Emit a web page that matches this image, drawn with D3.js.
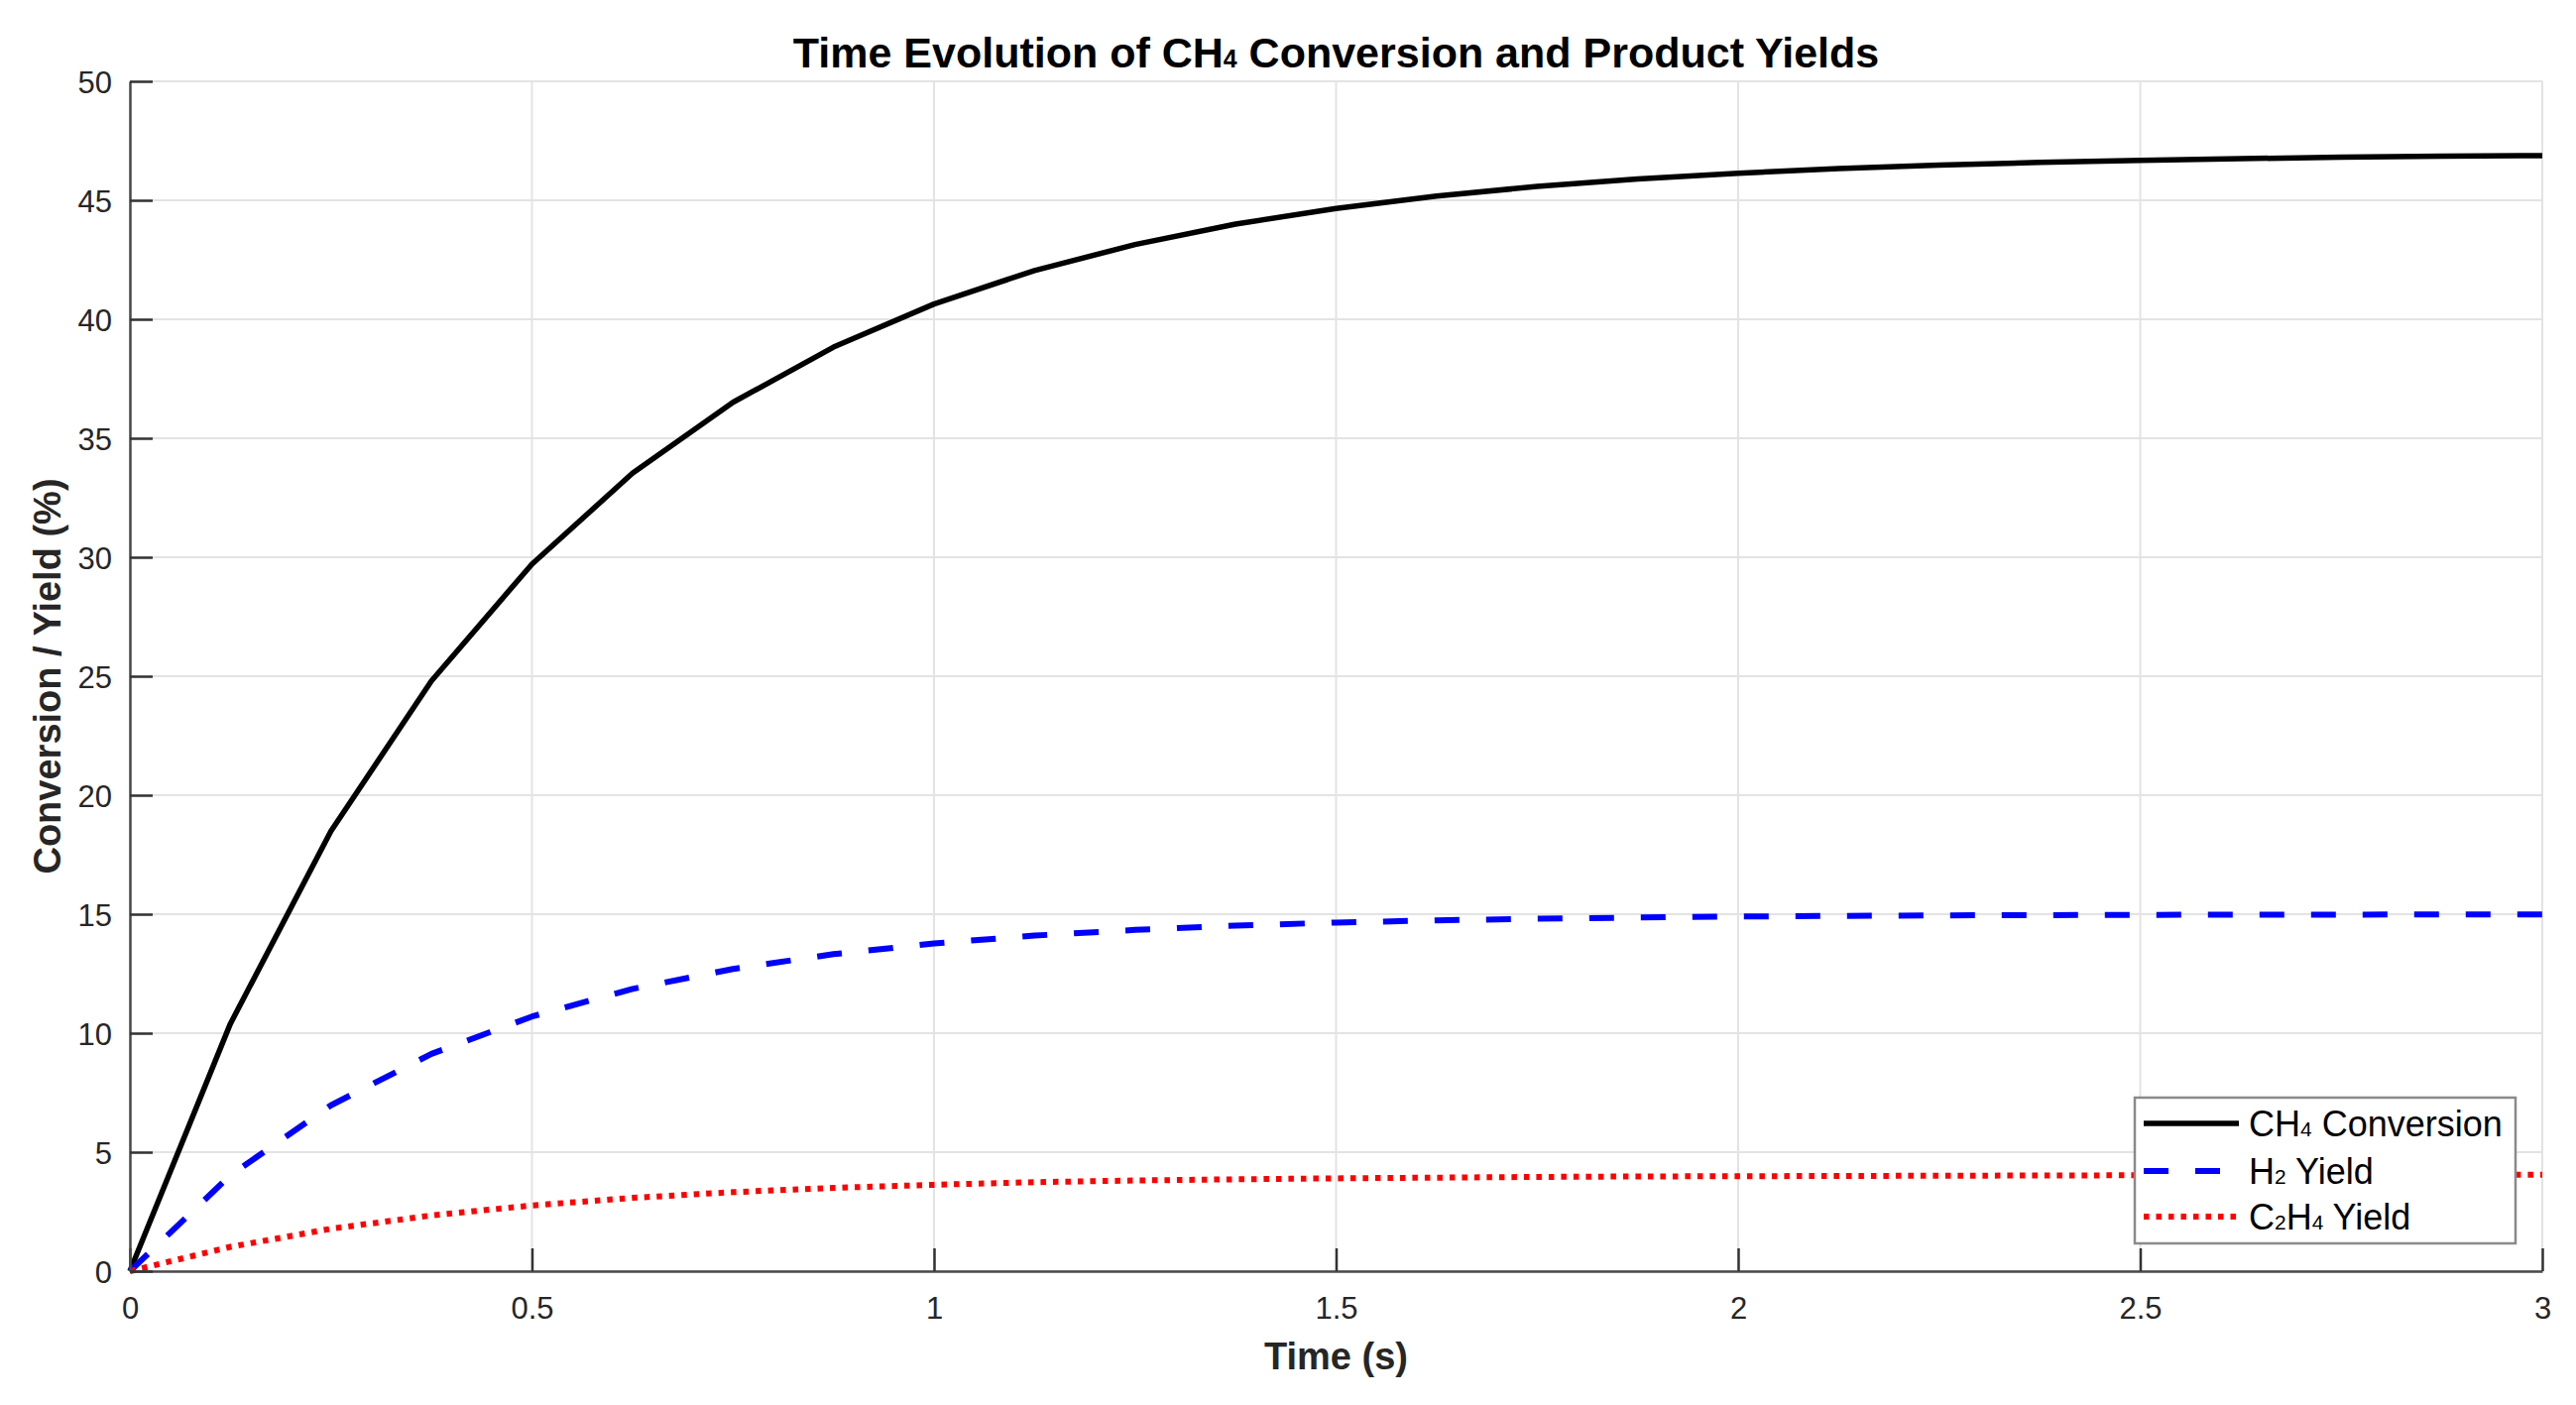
<!DOCTYPE html>
<html>
<head>
<meta charset="utf-8">
<script src="https://cdn.jsdelivr.net/npm/d3@7"></script>
<style>
  html, body { margin: 0; padding: 0; background: #ffffff; }
  svg { display: block; }
  text { font-family: "Liberation Sans", Arial, Helvetica, sans-serif; }
</style>
</head>
<body>
<svg id="chart" width="2598" height="1417"></svg>
<script>
// ---- data ----
const time = [0, 0.125, 0.25, 0.375, 0.5, 0.625, 0.75, 0.875, 1.0, 1.125, 1.25, 1.375, 1.5,
              1.625, 1.75, 1.875, 2.0, 2.125, 2.25, 2.375, 2.5, 2.625, 2.75, 2.875, 3.0];
const ch4Conversion = [0, 10.40, 18.49, 24.80, 29.71, 33.53, 36.51, 38.83, 40.64, 42.05, 43.14, 44.00, 44.66,
                       45.18, 45.58, 45.90, 46.14, 46.33, 46.48, 46.59, 46.68, 46.75, 46.81, 46.85, 46.88];
const h2Yield = [0, 4.03, 6.97, 9.13, 10.70, 11.86, 12.70, 13.32, 13.77, 14.10, 14.34, 14.52, 14.65,
                 14.74, 14.81, 14.86, 14.90, 14.93, 14.95, 14.96, 14.97, 14.98, 14.98, 14.99, 14.99];
const c2h4Yield = [0, 1.02, 1.78, 2.34, 2.76, 3.08, 3.32, 3.50, 3.63, 3.74, 3.81, 3.86, 3.90,
                   3.93, 3.96, 3.98, 3.99, 4.00, 4.01, 4.02, 4.03, 4.03, 4.04, 4.04, 4.05];
const xTicks = [0, 0.5, 1, 1.5, 2, 2.5, 3];
const yTicks = [0, 5, 10, 15, 20, 25, 30, 35, 40, 45, 50];
const seriesNames = [["CH", "4", " Conversion"], ["H", "2", " Yield"], ["C", "2", "H", "4", " Yield"]];

// ---- layout ----
const svg = d3.select("#chart");
const L = 131, R = 2564, T = 82, B = 1282;
const x = d3.scaleLinear().domain([0, 3]).range([L, R]);
const y = d3.scaleLinear().domain([0, 50]).range([B, T]);

svg.append("rect").attr("width", 2598).attr("height", 1417).attr("fill", "#fff");

// grid
const grid = svg.append("g");
grid.selectAll("line.gx").data(xTicks).join("line")
  .attr("x1", d => x(d)).attr("x2", d => x(d)).attr("y1", T).attr("y2", B)
  .attr("stroke", "#e3e3e3").attr("stroke-width", 2);
grid.selectAll("line.gy").data(yTicks).join("line")
  .attr("y1", d => y(d)).attr("y2", d => y(d)).attr("x1", L).attr("x2", R)
  .attr("stroke", "#e3e3e3").attr("stroke-width", 2);

// series
const series = [
  { vals: ch4Conversion, color: "#000000", dash: null, w: 5.5 },
  { vals: h2Yield, color: "#0000ff", dash: "25,27", w: 6 },
  { vals: c2h4Yield, color: "#ff0000", dash: "5.5,7", w: 6 }
];
const line = d3.line().x((d, i) => x(time[i])).y(d => y(d));
series.forEach(s => {
  svg.append("path").datum(s.vals)
    .attr("d", line)
    .attr("fill", "none")
    .attr("stroke", s.color)
    .attr("stroke-width", s.w)
    .attr("stroke-linejoin", "round")
    .attr("stroke-dasharray", s.dash);
});

// axes (ticks inward, box off)
const xAxis = d3.axisBottom(x).tickValues(xTicks).tickSizeInner(-23).tickSizeOuter(0)
  .tickPadding(0).tickFormat(d3.format("~g"));
const gx = svg.append("g").attr("transform", `translate(0,${B})`).call(xAxis);
gx.select(".domain").attr("stroke", "#4a4a4a").attr("stroke-width", 2.5);
gx.selectAll(".tick line").attr("stroke", "#333").attr("stroke-width", 2.5);
gx.selectAll(".tick text").attr("y", 48).attr("dy", 0)
  .attr("font-size", 31).attr("fill", "#262626")
  .style("font-family", '"Liberation Sans", Arial, sans-serif');

const yAxis = d3.axisLeft(y).tickValues(yTicks).tickSizeInner(-23).tickSizeOuter(0)
  .tickPadding(0).tickFormat(d3.format("~g"));
const gy = svg.append("g").attr("transform", `translate(${L},0)`).call(yAxis);
gy.select(".domain").attr("stroke", "#4a4a4a").attr("stroke-width", 2.5);
gy.selectAll(".tick line").attr("stroke", "#333").attr("stroke-width", 2.5);
gy.selectAll(".tick text").attr("x", -18).attr("dy", "0.36em")
  .attr("font-size", 31).attr("fill", "#262626")
  .style("font-family", '"Liberation Sans", Arial, sans-serif');

// title
const title = svg.append("text").attr("x", (L + R) / 2).attr("y", 68)
  .attr("text-anchor", "middle").attr("font-size", 43).attr("font-weight", "bold").attr("fill", "#000");
title.append("tspan").text("Time Evolution of CH");
title.append("tspan").attr("font-size", "0.58em").text("4");
title.append("tspan").text(" Conversion and Product Yields");

// axis labels
svg.append("text").attr("x", (L + R) / 2).attr("y", 1381)
  .attr("text-anchor", "middle").attr("font-size", 38).attr("font-weight", "bold")
  .attr("fill", "#262626").text("Time (s)");
svg.append("text").attr("transform", `translate(61,${(T + B) / 2}) rotate(-90)`)
  .attr("text-anchor", "middle").attr("font-size", 38).attr("font-weight", "bold")
  .attr("fill", "#262626").text("Conversion / Yield (%)");

// legend
const lg = svg.append("g");
lg.append("rect").attr("x", 2153).attr("y", 1107).attr("width", 384).attr("height", 147)
  .attr("fill", "#fff").attr("stroke", "#8a8a8a").attr("stroke-width", 2.5);
const rowY = [1133, 1181, 1227];
series.forEach((s, i) => {
  lg.append("line").attr("x1", 2162).attr("x2", 2258).attr("y1", rowY[i]).attr("y2", rowY[i])
    .attr("stroke", s.color).attr("stroke-width", s.w).attr("stroke-dasharray", s.dash);
  const t = lg.append("text").attr("x", 2268).attr("y", rowY[i] + 13)
    .attr("font-size", 36).attr("fill", "#000");
  seriesNames[i].forEach(part => {
    const isSub = /^\d$/.test(part);
    t.append("tspan").attr("font-size", isSub ? "0.58em" : null).text(part);
  });
});
</script>
</body>
</html>
